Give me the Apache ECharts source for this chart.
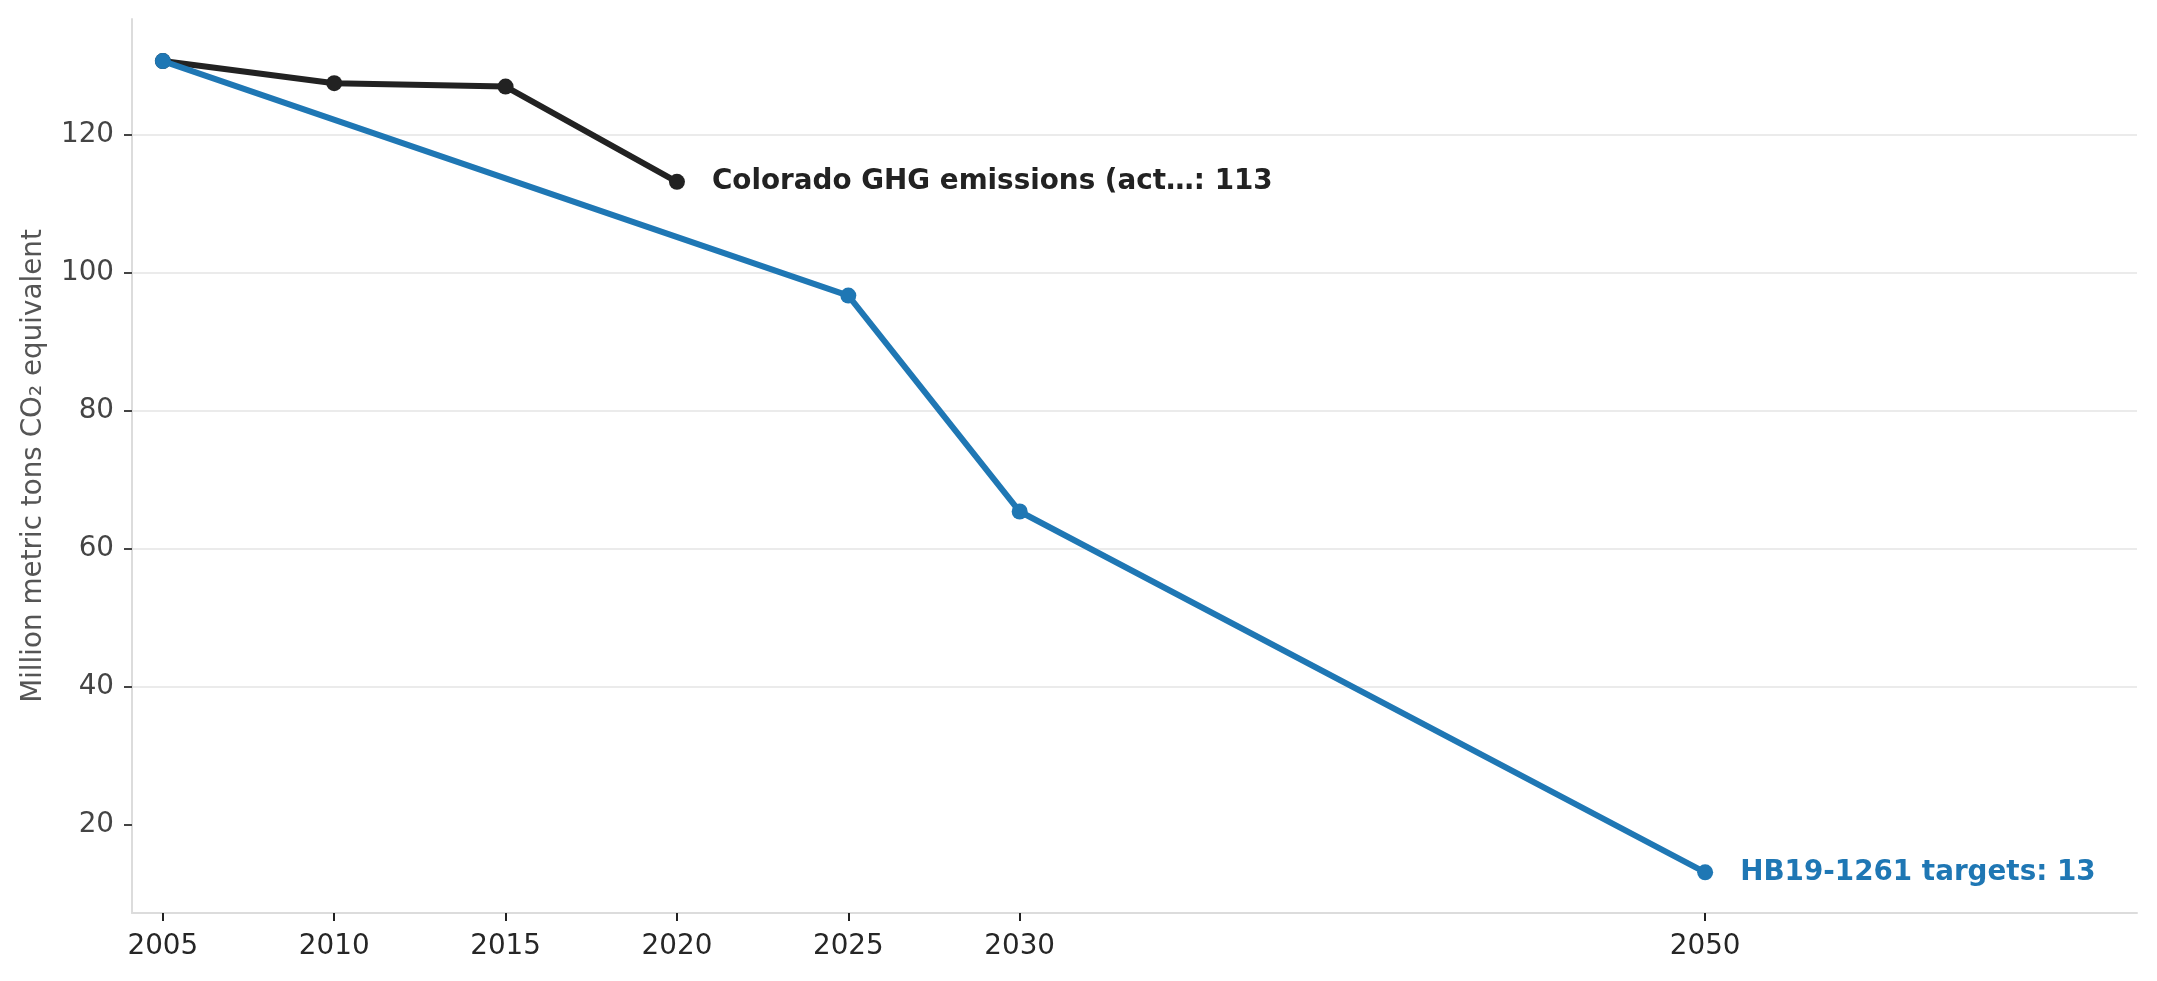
<!DOCTYPE html>
<html>
<head>
<meta charset="utf-8">
<script src="https://cdn.jsdelivr.net/npm/echarts@6/dist/echarts.min.js"></script>
<style>
  html, body { margin: 0; padding: 0; background: #fff; }
  #main { width: 2157px; height: 981px; }
</style>
</head>
<body>
<div id="main"></div>
<script>
// actual emissions
var actualYears = [2005, 2010, 2015, 2020]
var actualValues = [130.7, 127.5, 127.0, 113.2]
var actualLabel = 'Colorado GHG emissions (act…'

// HB19-1261 targets
var targetYears = [2005, 2025, 2030, 2050]
var targetValues = [130.7, 96.7, 65.4, 13.1]
var targetLabel = 'HB19-1261 targets'

var xTicks = [2005, 2010, 2015, 2020, 2025, 2030, 2050]
var yTicks = [20, 40, 60, 80, 100, 120]

function pairs(xs, ys) {
  return xs.map(function (x, i) { return [x, ys[i]] })
}

var font = 'DejaVu Sans'

var option = {
  animation: false,
  backgroundColor: '#fff',
  textStyle: { fontFamily: font },
  grid: { left: 132, right: 20, top: 19, bottom: 68 },
  xAxis: {
    type: 'value',
    min: 2004.1,
    max: 2062.6,
    axisLine: { show: true, lineStyle: { color: '#dcdcdc', width: 2 } },
    axisTick: { show: true, customValues: xTicks, length: 8, lineStyle: { color: '#222', width: 2 } },
    axisLabel: {
      customValues: xTicks,
      formatter: function (v) { return String(v) },
      color: '#262626', fontSize: 27.8, fontFamily: font, margin: 20
    },
    splitLine: { show: false }
  },
  yAxis: {
    type: 'value',
    min: 7.2,
    max: 136.8,
    splitNumber: 6,
    name: 'Million metric tons CO₂ equivalent',
    nameLocation: 'middle',
    nameGap: 84,
    nameTextStyle: { color: '#555', fontSize: 27.8, fontFamily: font },
    axisLine: { show: true, lineStyle: { color: '#dcdcdc', width: 2 } },
    axisTick: { show: true, customValues: yTicks, length: 8, lineStyle: { color: '#444', width: 2 } },
    axisLabel: {
      customValues: yTicks,
      color: '#444', fontSize: 27.8, fontFamily: font, margin: 18
    },
    splitLine: {
      show: true,
      showMinLine: false,
      showMaxLine: true,
      lineStyle: { color: '#ebebeb', width: 2 }
    }
  },
  series: [
    {
      name: actualLabel,
      type: 'line',
      data: pairs(actualYears, actualValues),
      symbol: 'circle',
      symbolSize: 16,
      lineStyle: { color: '#222', width: 6 },
      itemStyle: { color: '#222' },
      z: 3,
      endLabel: {
        show: true,
        distance: 35,
        formatter: function (p) { return actualLabel + ': ' + Math.round(p.value[1]) },
        color: '#222', fontWeight: 'bold', fontSize: 27.8, fontFamily: font
      }
    },
    {
      name: targetLabel,
      type: 'line',
      data: pairs(targetYears, targetValues),
      symbol: 'circle',
      symbolSize: 16,
      lineStyle: { color: '#1f77b4', width: 6 },
      itemStyle: { color: '#1f77b4' },
      z: 4,
      endLabel: {
        show: true,
        distance: 35,
        formatter: function (p) { return targetLabel + ': ' + Math.round(p.value[1]) },
        color: '#1f77b4', fontWeight: 'bold', fontSize: 27.8, fontFamily: font
      }
    }
  ]
}

var myChart = echarts.init(document.getElementById('main'))
myChart.setOption(option)
</script>
</body>
</html>
